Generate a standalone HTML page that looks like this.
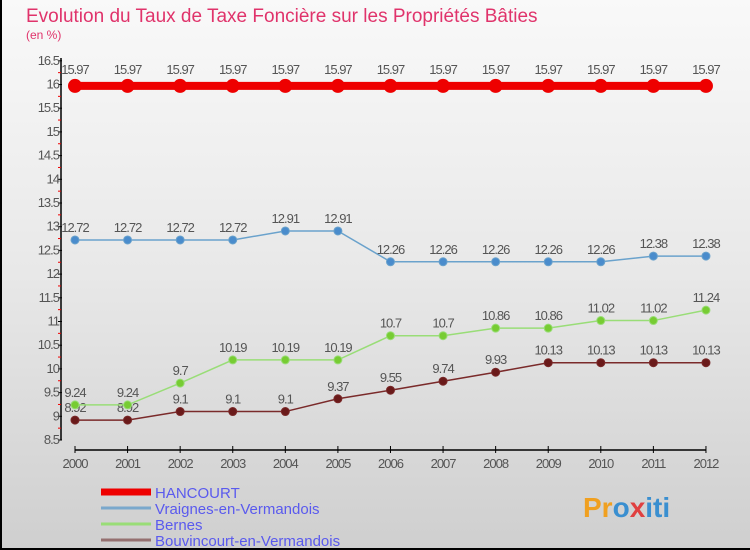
<!DOCTYPE html>
<html><head><meta charset="utf-8"><style>
body{margin:0;}
#wrap{position:relative;width:750px;height:550px;overflow:hidden;background:linear-gradient(#f9f9f9,#e8e8e8 50%,#cfcfcf);border-left:2px solid #000;border-bottom:2px solid #000;box-sizing:border-box;font-family:"Liberation Sans",sans-serif;}
</style></head><body>
<div id="wrap">
<svg id="svg" width="750" height="550" style="position:absolute;left:-2px;top:0">
<text x="26" y="22" font-size="19" fill="#e0336b">Evolution du Taux de Taxe Foncière sur les Propriétés Bâties</text>
<text x="26" y="39" font-size="12" fill="#e0336b">(en %)</text>
<g id="axes"></g><g id="series"></g><g id="legend"></g>
<text x="583" y="517" font-size="28" font-weight="bold"><tspan fill="#f0a020">Pr</tspan><tspan fill="#3a8fd0">o</tspan><tspan fill="#e04040">x</tspan><tspan fill="#3a8fd0">iti</tspan></text>
</svg>
</div>
<script>
const years=[2000,2001,2002,2003,2004,2005,2006,2007,2008,2009,2010,2011,2012];
const hancourt=[15.97,15.97,15.97,15.97,15.97,15.97,15.97,15.97,15.97,15.97,15.97,15.97,15.97];
const vraignes=[12.72,12.72,12.72,12.72,12.91,12.91,12.26,12.26,12.26,12.26,12.26,12.38,12.38];
const bernes=[9.24,9.24,9.7,10.19,10.19,10.19,10.7,10.7,10.86,10.86,11.02,11.02,11.24];
const bouvincourt=[8.92,8.92,9.1,9.1,9.1,9.37,9.55,9.74,9.93,10.13,10.13,10.13,10.13];
const yTicks=[8.5,9,9.5,10,10.5,11,11.5,12,12.5,13,13.5,14,14.5,15,15.5,16,16.5];
const seriesNames=["HANCOURT","Vraignes-en-Vermandois","Bernes","Bouvincourt-en-Vermandois"];
const NS="http://www.w3.org/2000/svg";
function xS(i){return 75+i*52.58;}
function yS(v){return 440-(v-8.5)*47.4;}
function mk(tag,at,parent){const e=document.createElementNS(NS,tag);for(const k in at)e.setAttribute(k,at[k]);parent.appendChild(e);return e;}
const ax=document.getElementById('axes'),sg=document.getElementById('series'),lg=document.getElementById('legend');
let l=mk('line',{x1:61,y1:58,x2:61,y2:440,stroke:'#000','stroke-width':1.5},ax);

l=mk('line',{x1:75,y1:450,x2:706,y2:450,stroke:'#000','stroke-width':1.5},ax);

yTicks.forEach((v,i)=>{const y=yS(v);
 mk('line',{x1:58,y1:y,x2:62,y2:y,stroke:'#000'},ax);
 if(i<yTicks.length-1) mk('line',{x1:58,y1:y-11.85,x2:61,y2:y-11.85,stroke:'#e00'},ax);
 const t=mk('text',{x:59,y:y+4,'font-size':13,'text-anchor':'end',fill:'#555','letter-spacing':'-1'},ax);t.textContent=String(v);
 });
years.forEach((yr,i)=>{const x=xS(i);
 mk('line',{x1:x,y1:446,x2:x,y2:453,stroke:'#000'},ax);
 const t=mk('text',{x:x,y:468,'font-size':13,'text-anchor':'middle',fill:'#555','letter-spacing':'-1'},ax);t.textContent=yr;
 });
function draw(vals,color,w,r,fill,name,labOff){
 const pts=vals.map((v,i)=>xS(i)+','+yS(v)).join(' ');
 const pl=mk('polyline',{points:pts,fill:'none',stroke:color,'stroke-width':w},sg);
 
 vals.forEach((v,i)=>{const c=mk('circle',{cx:xS(i),cy:yS(v),r:r,fill:fill,stroke:color,'stroke-width':1},sg);
  
  const t=mk('text',{x:xS(i),y:yS(v)-labOff,'font-size':13,'text-anchor':'middle',fill:'#555','letter-spacing':'-1'},sg);t.textContent=String(v);
  });
}
draw(bouvincourt,'#7a2a2a',1.5,4,'#6a1a1a','bouvincourt',8);
draw(bernes,'#99dd77',1.5,4,'#77cc33','bernes',8);
draw(vraignes,'#6aa2cc',1.5,4,'#4a8ccc','vraignes',8);
draw(hancourt,'#ee0000',8,6.5,'#ee0000','hancourt',12);
const lc=['#ee0000','#7aa8cc','#99dd77','#957070'],lw=[7,3,3,3];
seriesNames.forEach((n,i)=>{const y=492+i*16;
 const ln=mk('line',{x1:101,y1:y,x2:151,y2:y,stroke:lc[i],'stroke-width':lw[i]},lg);
 
 const t=mk('text',{x:155,y:y+6,'font-size':15,fill:'#5a5aee'},lg);t.textContent=n;
 });
</script>
</body></html>
